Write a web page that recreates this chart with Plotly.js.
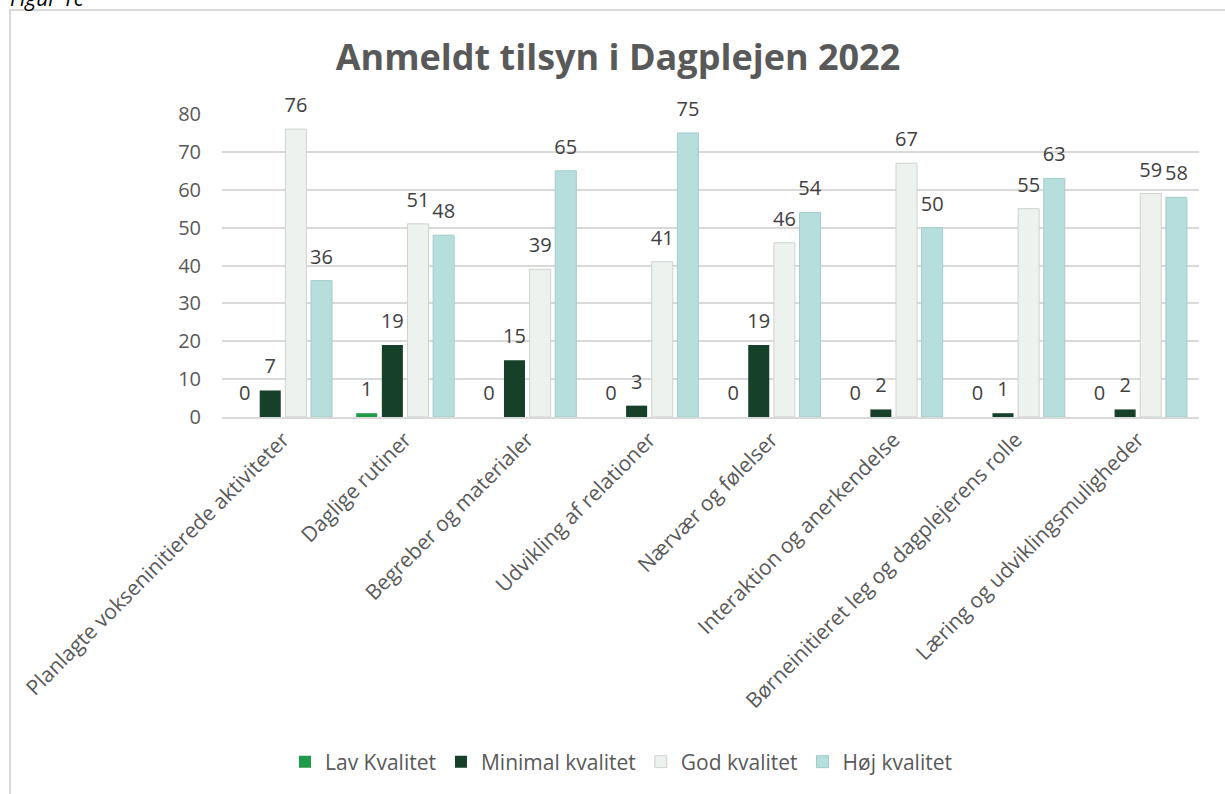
<!DOCTYPE html>
<html><head><meta charset="utf-8">
<script src="https://cdn.plot.ly/plotly-3.0.1.min.js"></script>
<style>body{margin:0;background:#fff}#chart{width:1225px;height:794px}</style>
</head><body><div id="chart"></div>
<script>
const categories = [
  "Planlagte vokseninitierede aktiviteter",
  "Daglige rutiner",
  "Begreber og materialer",
  "Udvikling af relationer",
  "Nærvær og følelser",
  "Interaktion og anerkendelse",
  "Børneinitieret leg og dagplejerens rolle",
  "Læring og udviklingsmuligheder"
];
const seriesNames = ["Lav Kvalitet", "Minimal kvalitet", "God kvalitet", "Høj kvalitet"];
const lav     = [0, 1, 0, 0, 0, 0, 0, 0];
const minimal = [7, 19, 15, 3, 19, 2, 1, 2];
const god     = [76, 51, 39, 41, 46, 67, 55, 59];
const hoj     = [36, 48, 65, 75, 54, 50, 63, 58];
const yTicks  = [0, 10, 20, 30, 40, 50, 60, 70, 80];

const FONT = "Open Sans, sans-serif";
const colors = ["#1f9a48", "#17402a", "#eef2ee", "#b6dedc"];
const lines  = ["#1f9a48", "#17402a", "#cdd3cd", "#a3ccc9"];
const lineW  = [0, 0, 1, 1];
const values = [lav, minimal, god, hoj];

const W = 1225, H = 794, L = 222, R = 26, T = 114, B = 377;
const pw = W - L - R, ph = H - T - B;
const px = x => (x - L) / pw;
const py = y => (H - B - y) / ph;
const unitsPerPx = 80 / ph;
const labelLift = 8 * unitsPerPx;   // extra gap between bar top and its label

const bars = values.map((v, i) => ({
  type: "bar",
  name: seriesNames[i],
  x: categories,
  y: v,
  marker: {color: colors[i], line: {color: lines[i], width: lineW[i]}},
  hoverinfo: "x+y+name"
}));

// transparent twin bars on an overlaid, shifted axis carry the value labels
const labels = values.map((v, i) => ({
  type: "bar",
  name: seriesNames[i],
  x: categories,
  y: v,
  yaxis: "y2",
  showlegend: false,
  text: v.map(String),
  textposition: "outside",
  constraintext: "none",
  cliponaxis: false,
  textfont: {family: FONT, size: 20, color: "#404040"},
  marker: {color: "rgba(0,0,0,0)", line: {width: 0}},
  hoverinfo: "skip"
}));

const layout = {
  width: W, height: H,
  margin: {l: L, r: R, t: T, b: B, pad: 0},
  paper_bgcolor: "#fff", plot_bgcolor: "#fff",
  font: {family: FONT, color: "#595959"},
  title: {
    text: "<b>Anmeldt tilsyn i Dagplejen 2022</b>",
    font: {family: FONT, size: 36, color: "#595959"},
    x: (618) / W, xanchor: "center", y: 1 - 57 / H, yanchor: "middle"
  },
  barmode: "group",
  bargap: 0.16,
  bargroupgap: 0.18,
  xaxis: {
    type: "category",
    tickangle: -45,
    tickfont: {family: FONT, size: 21, color: "#595959"},
    showline: true, linecolor: "#d9d9d9", linewidth: 2,
    ticks: "", showgrid: false
  },
  yaxis: {
    range: [0, 80],
    tickvals: yTicks,
    ticktext: yTicks.map(String),
    tickfont: {family: FONT, size: 20, color: "#595959"},
    showgrid: true, gridcolor: "#d9d9d9", gridwidth: 2,
    zeroline: false, showline: false, ticks: "outside", ticklen: 16, tickcolor: "rgba(0,0,0,0)"
  },
  yaxis2: {
    overlaying: "y",
    range: [-labelLift, 80 - labelLift],
    visible: false, showgrid: false, zeroline: false, fixedrange: true
  },
  legend: {
    orientation: "h",
    x: px(621), xanchor: "center",
    y: py(762), yanchor: "middle",
    font: {family: FONT, size: 21, color: "#595959"},
    itemwidth: 30, traceorder: "normal"
  },
  shapes: [{
    type: "rect", xref: "paper", yref: "paper",
    x0: px(10), x1: px(1240), y0: py(810), y1: py(10),
    line: {color: "#d9d9d9", width: 2}, fillcolor: "rgba(0,0,0,0)", layer: "below"
  }],
  annotations: [{
    text: "<i>Figur 1c</i>", showarrow: false,
    xref: "paper", yref: "paper",
    x: px(8), xanchor: "left", y: py(-2), yanchor: "middle",
    font: {family: FONT, size: 21, color: "#000"}
  }]
};

Plotly.newPlot("chart", bars.concat(labels), layout, {displayModeBar: false, staticPlot: true});
</script></body></html>
